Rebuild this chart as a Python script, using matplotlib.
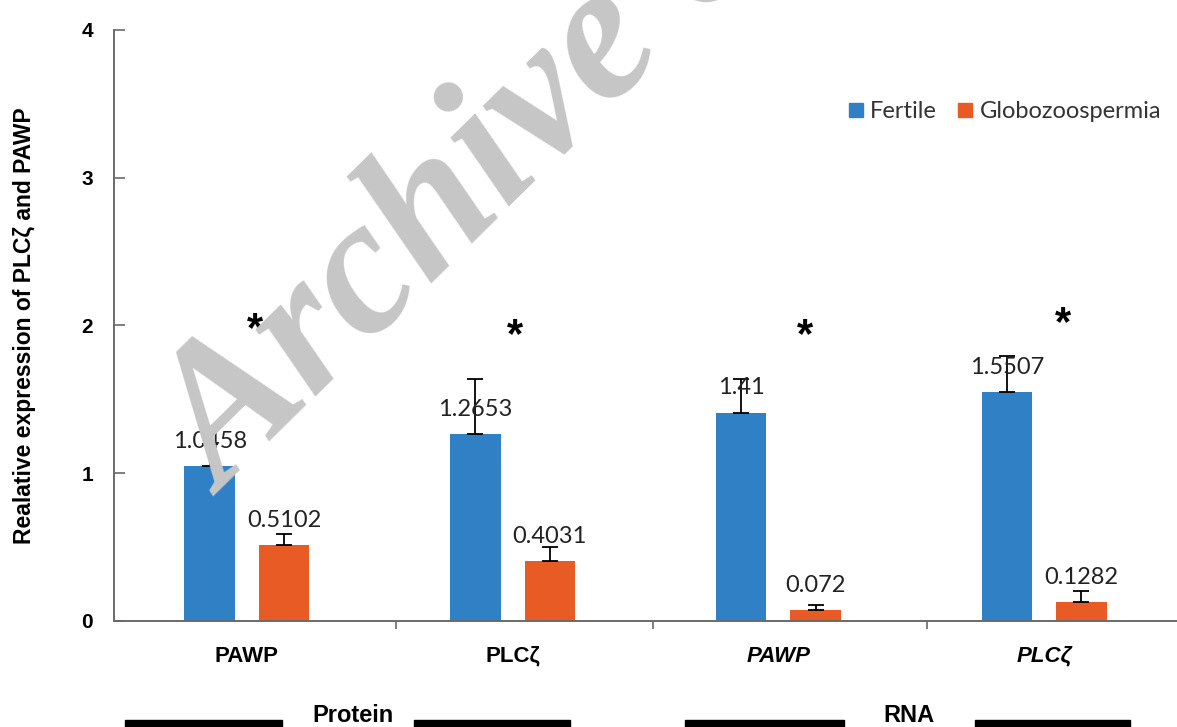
import numpy as np
import matplotlib
matplotlib.use('Agg')
import matplotlib.pyplot as plt
from matplotlib.lines import Line2D
from matplotlib.patches import Rectangle
import matplotlib.transforms as mtransforms

categories = ['PAWP', 'PLCζ', 'PAWP', 'PLCζ']
cat_italic = [False, False, True, True]
fertile = [1.0458, 1.2653, 1.41, 1.5507]
globo = [0.5102, 0.4031, 0.072, 0.1282]
fertile_err = [0.15, 0.37, 0.23, 0.24]
globo_err = [0.08, 0.095, 0.035, 0.075]
star_x = [0.03, 1.01, 2.1, 3.07]
star_y = [1.97, 1.93, 1.93, 2.01]
groups = ['Protein', 'RNA']

blue = '#2f80c5'
orange = '#e85b25'
axcol = '#6a6a6a'
bold_font = 'Liberation Sans'

fig = plt.figure(figsize=(11.77, 7.27), dpi=100)
ax = fig.add_axes([0.0969, 0.146, 0.9031, 0.813])

x = np.arange(len(categories))
off = 0.14
w = 0.19
ekw = dict(lw=1.3, capthick=1.3, ecolor='black')
ax.bar(x - off, fertile, w, color=blue, yerr=[np.zeros(4), fertile_err],
       capsize=6, error_kw=ekw)
ax.bar(x + off, globo, w, color=orange, yerr=[np.zeros(4), globo_err],
       capsize=6, error_kw=ekw)

# value labels above the bars
for xs, vals in [(x - off, fertile), (x + off, globo)]:
    for xi, v in zip(xs, vals):
        ax.annotate(str(v), (xi, v), xytext=(0, 13), textcoords='offset points',
                    ha='center', va='baseline', fontsize=17, family='Lato',
                    color='#222222')

# significance stars
for sx, sy in zip(star_x, star_y):
    ax.text(sx, sy, '*', ha='center', va='center', fontsize=30,
            fontweight='bold', family=bold_font)

ax.set_xlim(-0.5, 3.5)
ax.set_ylim(0, 4)
ax.set_yticks([0, 1, 2, 3, 4])
ax.set_yticklabels(['0', '1', '2', '3', '4'], fontsize=15, fontweight='bold',
                   family=bold_font)
ax.tick_params(axis='y', direction='in', length=8, width=1.2, color=axcol, pad=15)

ax.set_xticks(x)
ax.set_xticklabels(categories, fontsize=16, fontweight='bold', family=bold_font)
for lab, it in zip(ax.get_xticklabels(), cat_italic):
    if it:
        lab.set_fontstyle('italic')
ax.tick_params(axis='x', which='major', length=0, pad=18)
ax.set_xticks([0.56, 1.53, 2.56], minor=True)
ax.tick_params(axis='x', which='minor', direction='out', length=6, width=1.2,
               color=axcol)

for s in ['top', 'right']:
    ax.spines[s].set_visible(False)
for s in ['left', 'bottom']:
    ax.spines[s].set_color(axcol)
    ax.spines[s].set_linewidth(1.4)

ax.set_ylabel('Realative expression of PLCζ and PAWP', fontsize=16.5,
              fontweight='bold', family=bold_font)
ax.yaxis.set_label_coords(-0.073, 0.5)

handles = [Line2D([], [], marker='s', ls='', color=blue, markersize=10),
           Line2D([], [], marker='s', ls='', color=orange, markersize=10)]
ax.legend(handles, ['Fertile', 'Globozoospermia'], loc='center right',
          bbox_to_anchor=(0.985, 0.861), ncol=2, frameon=False,
          handlelength=0.6, handletextpad=0.3, columnspacing=0.9,
          borderaxespad=0, borderpad=0,
          prop={'family': 'Lato', 'size': 17})
for t in ax.get_legend().get_texts():
    t.set_color('#333333')

# group brackets under the axis
trans = mtransforms.blended_transform_factory(ax.transData, fig.transFigure)
segs = [(-0.459, 0.132), (0.628, 1.214), (1.650, 2.248), (2.741, 3.323)]
for a, b in segs:
    fig.add_artist(Rectangle((a, -0.01), b - a, 0.0196, transform=trans,
                             color='black', clip_on=False))
fig.text(0.40, 0.007, groups[0], transform=trans, ha='center', va='baseline',
         fontsize=17, fontweight='bold', family=bold_font)
fig.text(2.49, 0.007, groups[1], transform=trans, ha='center', va='baseline',
         fontsize=17, fontweight='bold', family=bold_font)

# watermark
fig.text(224 / 1177, 1 - 497 / 727, 'Archive of SID', rotation=44.5,
         rotation_mode='anchor', ha='left', va='baseline', fontsize=140,
         fontweight='bold', fontstyle='italic', family='Liberation Serif',
         color='#c6c6c6', zorder=10)

fig.savefig('out.png', dpi=100)
